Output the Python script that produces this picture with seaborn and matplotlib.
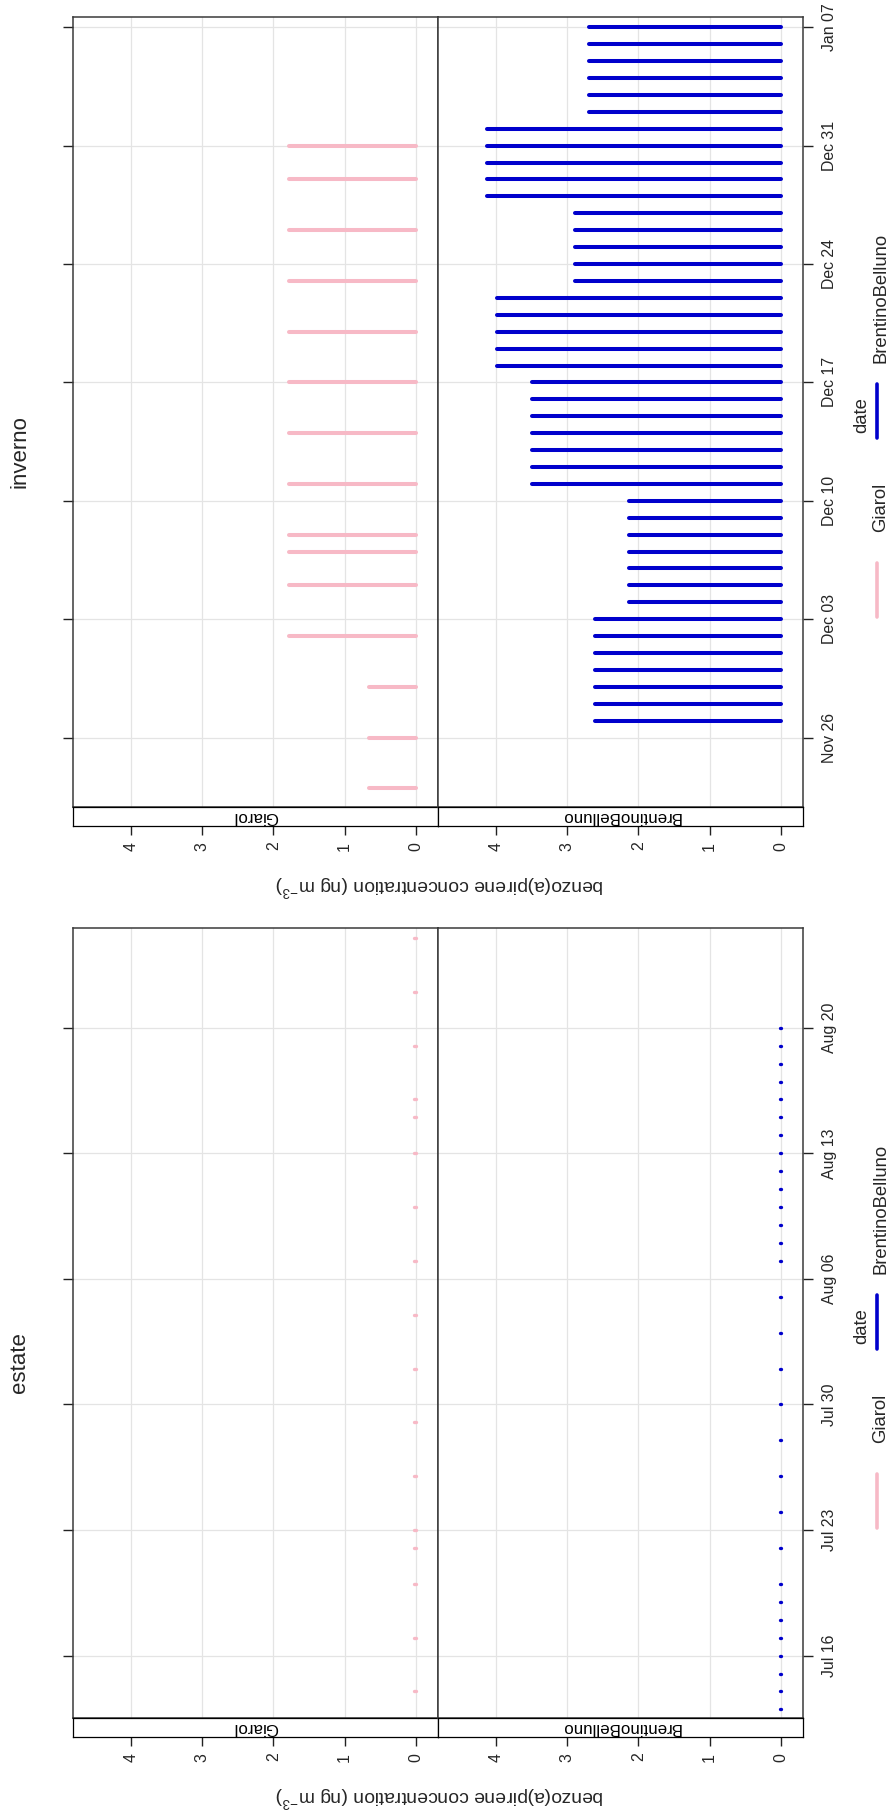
import matplotlib
matplotlib.use("Agg")
import numpy as np
import pandas as pd
import matplotlib.pyplot as plt
import matplotlib.dates as mdates
from matplotlib.lines import Line2D
import seaborn as sns

# ---------------------------------------------------------------- data
sites = ["Giarol", "BrentinoBelluno"]
site_colors = {"Giarol": "#F7B9C6", "BrentinoBelluno": "#0000CC"}

# inverno (winter campaign)
inv_giarol_dates = ["2012-11-23", "2012-11-26", "2012-11-29", "2012-12-02", "2012-12-05",
                    "2012-12-07", "2012-12-08", "2012-12-11", "2012-12-14", "2012-12-17",
                    "2012-12-20", "2012-12-23", "2012-12-26", "2012-12-29", "2012-12-31"]
inv_giarol_vals = [0.66, 0.66, 0.66, 1.78, 1.78,
                   1.78, 1.78, 1.78, 1.78, 1.78,
                   1.78, 1.78, 1.78, 1.78, 1.78]

inv_brentino_dates = ["2012-11-27", "2012-11-28", "2012-11-29", "2012-11-30", "2012-12-01",
                      "2012-12-02", "2012-12-03", "2012-12-04", "2012-12-05", "2012-12-06",
                      "2012-12-07", "2012-12-08", "2012-12-09", "2012-12-10", "2012-12-11",
                      "2012-12-12", "2012-12-13", "2012-12-14", "2012-12-15", "2012-12-16",
                      "2012-12-17", "2012-12-18", "2012-12-19", "2012-12-20", "2012-12-21",
                      "2012-12-22", "2012-12-23", "2012-12-24", "2012-12-25", "2012-12-26",
                      "2012-12-27", "2012-12-28", "2012-12-29", "2012-12-30", "2012-12-31",
                      "2013-01-01", "2013-01-02", "2013-01-03", "2013-01-04", "2013-01-05",
                      "2013-01-06", "2013-01-07"]
inv_brentino_vals = [2.61, 2.61, 2.61, 2.61, 2.61, 2.61, 2.61,
                     2.13, 2.13, 2.13, 2.13, 2.13, 2.13, 2.13,
                     3.50, 3.50, 3.50, 3.50, 3.50, 3.50, 3.50,
                     3.98, 3.98, 3.98, 3.98, 3.98,
                     2.89, 2.89, 2.89, 2.89, 2.89,
                     4.12, 4.12, 4.12, 4.12, 4.12,
                     2.70, 2.70, 2.70, 2.70, 2.70, 2.70]
inv_tick_dates = ["2012-11-26", "2012-12-03", "2012-12-10", "2012-12-17",
                  "2012-12-24", "2012-12-31", "2013-01-07"]

# estate (summer campaign)
est_giarol_dates = ["2012-07-14", "2012-07-17", "2012-07-20", "2012-07-22", "2012-07-23",
                    "2012-07-26", "2012-07-29", "2012-08-01", "2012-08-04", "2012-08-07",
                    "2012-08-10", "2012-08-13", "2012-08-15", "2012-08-16", "2012-08-19",
                    "2012-08-22", "2012-08-25"]
est_giarol_vals = [0.03, 0.03, 0.03, 0.03, 0.03, 0.03, 0.03, 0.03, 0.03,
                   0.03, 0.03, 0.03, 0.03, 0.03, 0.03, 0.03, 0.03]

est_brentino_dates = ["2012-07-13", "2012-07-14", "2012-07-15", "2012-07-16", "2012-07-17",
                      "2012-07-18", "2012-07-19", "2012-07-20", "2012-07-22", "2012-07-24",
                      "2012-07-26", "2012-07-28", "2012-07-30", "2012-08-01", "2012-08-03",
                      "2012-08-05", "2012-08-07", "2012-08-08", "2012-08-09", "2012-08-10",
                      "2012-08-11", "2012-08-12", "2012-08-13", "2012-08-14", "2012-08-15",
                      "2012-08-16", "2012-08-17", "2012-08-18", "2012-08-19", "2012-08-20"]
est_brentino_vals = [0.01, 0.01, 0.01, 0.01, 0.01, 0.01, 0.01, 0.01, 0.01, 0.01,
                     0.01, 0.01, 0.01, 0.01, 0.01, 0.01, 0.01, 0.01, 0.01, 0.01,
                     0.01, 0.01, 0.01, 0.01, 0.01, 0.01, 0.01, 0.01, 0.01, 0.01]
est_tick_dates = ["2012-07-16", "2012-07-23", "2012-07-30", "2012-08-06",
                  "2012-08-13", "2012-08-20"]

value_ticks = [0, 1, 2, 3, 4]
y_label = r"benzo(a)pirene concentration (ng m$^{-3}$)"
legend_title = "date"


def stems(dates_by_site, vals_by_site):
    """Long-form table: every stem is one unit running from 0 to its value."""
    rows = []
    sid = 0
    for site in sites:
        for d, v in zip(dates_by_site[site], vals_by_site[site]):
            day = mdates.date2num(pd.Timestamp(d))
            rows.append((sid, site, day, 0.0))
            rows.append((sid, site, day, v))
            sid += 1
    return pd.DataFrame(rows, columns=["stem", "site", "day", "conc"])


seasons = [
    dict(title="inverno", offset=0.0, lw=2.9,
         df=stems({"Giarol": inv_giarol_dates, "BrentinoBelluno": inv_brentino_dates},
                  {"Giarol": inv_giarol_vals, "BrentinoBelluno": inv_brentino_vals}),
         ticks=inv_tick_dates, anchor="2013-01-07", anchor_y=27.3, px_day=16.91),
    dict(title="estate", offset=911.0, lw=2.4,
         df=stems({"Giarol": est_giarol_dates, "BrentinoBelluno": est_brentino_dates},
                  {"Giarol": est_giarol_vals, "BrentinoBelluno": est_brentino_vals}),
         ticks=est_tick_dates, anchor="2012-08-20", anchor_y=116.7, px_day=17.94),
]

# ---------------------------------------------------------------- style
sns.set_style("white")
plt.rcParams["font.family"] = ["Liberation Sans", "DejaVu Sans"]
plt.rcParams["mathtext.fontset"] = "custom"
plt.rcParams["mathtext.rm"] = "Liberation Sans"
plt.rcParams["mathtext.it"] = "Liberation Sans"

W, H = 888, 1816
fig = plt.figure(figsize=(W / 100, H / 100), dpi=100)
fig.patch.set_facecolor("white")


def rect(x0, y0, x1, y1):
    return [x0 / W, 1 - y1 / H, (x1 - x0) / W, (y1 - y0) / H]


PANEL_TOP, STRIP_TOP, STRIP_BOT = 16.7, 807.3, 825.7
X_EDGES = [73.3, 438.3, 803.3]
XLIM = (4.81, -0.315)
GRID = "#E4E4E4"
FRAME = "#3A3A3A"

for s in seasons:
    off = s["offset"]
    anchor = mdates.date2num(pd.Timestamp(s["anchor"]))
    top = anchor + (s["anchor_y"] - PANEL_TOP) / s["px_day"]
    bottom = anchor - (STRIP_TOP - s["anchor_y"]) / s["px_day"]
    tick_nums = [mdates.date2num(pd.Timestamp(t)) for t in s["ticks"]]
    tick_labels = [pd.Timestamp(t).strftime("%b %d") for t in s["ticks"]]

    for i, site in enumerate(sites):
        x0, x1 = X_EDGES[i], X_EDGES[i + 1]
        ax = fig.add_axes(rect(x0, PANEL_TOP + off, x1, STRIP_TOP + off))
        sub = s["df"][s["df"]["site"] == site]
        sns.lineplot(data=sub, x="conc", y="day", units="stem", estimator=None,
                     sort=False, color=site_colors[site], linewidth=s["lw"],
                     solid_capstyle="round", legend=False, ax=ax)
        ax.set_xlim(*XLIM)
        ax.set_ylim(bottom, top)
        ax.set_xlabel("")
        ax.set_ylabel("")
        ax.set_xticks(value_ticks)
        ax.set_yticks(tick_nums)
        ax.grid(True, color=GRID, linewidth=0.9)
        ax.set_axisbelow(True)
        ax.tick_params(axis="x", bottom=False, top=False, labelbottom=False)
        if i == 0:
            ax.tick_params(axis="y", left=True, right=False, labelleft=False,
                           labelright=False, direction="out", length=7.2,
                           width=1.0, color="#222222")
        else:
            ax.yaxis.tick_right()
            ax.set_yticklabels(tick_labels)
            ax.tick_params(axis="y", left=False, right=True, labelleft=False,
                           labelright=True, direction="out", length=7.2,
                           width=1.0, color="#222222", labelrotation=90,
                           labelsize=11.4, pad=6.0)
            for lab in ax.get_yticklabels():
                lab.set_verticalalignment("center")
        for sp in ax.spines.values():
            sp.set_color(FRAME)
            sp.set_linewidth(1.1)

        # strip on the bottom side of each panel
        sx = fig.add_axes(rect(x0, STRIP_TOP + off, x1, STRIP_BOT + off))
        sx.set_xlim(*XLIM)
        sx.set_ylim(0, 1)
        sx.set_facecolor("white")
        sx.set_xticks(value_ticks)
        sx.set_xticklabels([str(v) for v in value_ticks])
        sx.set_yticks([])
        sx.tick_params(axis="x", bottom=True, labelbottom=True, direction="out",
                       length=6.5, width=1.0, color="#222222", labelrotation=90,
                       labelsize=11.4, pad=5)
        for sp in sx.spines.values():
            sp.set_color("black")
            sp.set_linewidth(0.9)
        sx.text(0.5, 0.5, site, transform=sx.transAxes, rotation=180,
                ha="center", va="center", fontsize=12.2, color="black")

    # value axis label
    fig.text(440 / W, 1 - (886 + off) / H, y_label, rotation=180,
             ha="center", va="center", fontsize=13.9)

    # season title
    fig.text(20 / W, 1 - (452 + off) / H, s["title"], rotation=90,
             ha="center", va="center", fontsize=16)

    # legend
    fig.text(862 / W, 1 - (415 + off) / H, legend_title, rotation=90,
             ha="center", va="center", fontsize=13.3)
    for site, (ya, yb), ytxt in [("Giarol", (563, 617), 507),
                                 ("BrentinoBelluno", (384, 438), 298)]:
        fig.add_artist(Line2D([877 / W, 877 / W],
                              [1 - (ya + off) / H, 1 - (yb + off) / H],
                              transform=fig.transFigure, color=site_colors[site],
                              linewidth=2.6, solid_capstyle="round"))
        fig.text(881 / W, 1 - (ytxt + off) / H, site, rotation=90,
                 ha="center", va="center", fontsize=13.3)

fig.savefig("out.png", dpi=100, facecolor="white")
